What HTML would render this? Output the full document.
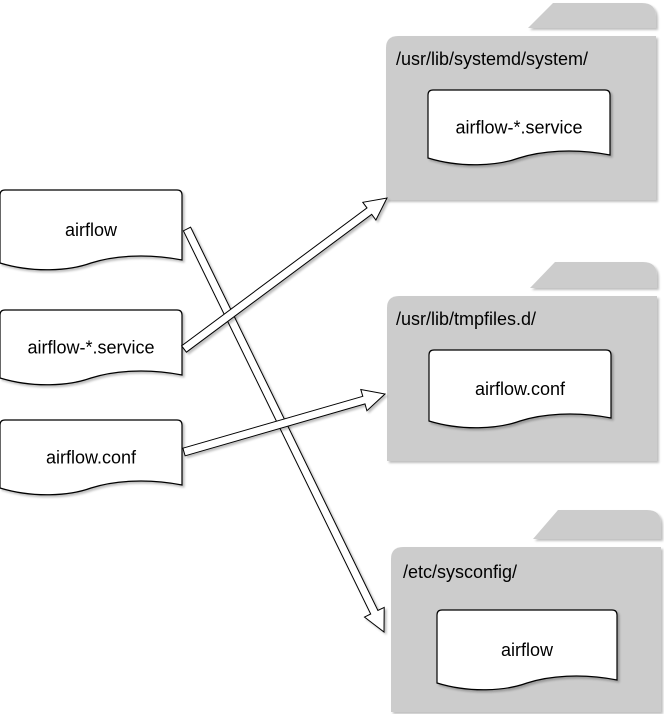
<!DOCTYPE html>
<html><head><meta charset="utf-8"><style>
html,body{margin:0;padding:0;background:#fff;width:664px;height:714px;overflow:hidden}
svg{display:block}
text{font-family:"Liberation Sans",sans-serif;font-size:18px;fill:#000}
</style></head><body>
<svg id="s" width="664" height="714" viewBox="0 0 664 714" xmlns="http://www.w3.org/2000/svg">
<defs><filter id="sh" x="-10%" y="-10%" width="130%" height="130%"><feOffset dx="2" dy="2" in="SourceAlpha" result="o"/><feGaussianBlur in="o" stdDeviation="1" result="b"/><feColorMatrix in="b" type="matrix" values="0 0 0 0 0  0 0 0 0 0  0 0 0 0 0  0 0 0 0.25 0"/><feMerge><feMergeNode/><feMergeNode in="SourceGraphic"/></feMerge></filter></defs>
<g id="g"></g>
</svg>
<script>
var g=document.getElementById('g'),out='';
function folder(x,y,w,h,ty,tx){
 out+='<path d="M'+tx+','+(y-8)+' L'+(tx+25)+','+ty+' L'+(x+w-14)+','+ty+' Q'+(x+w)+','+ty+' '+(x+w)+','+(ty+14)+' L'+(x+w)+','+(y-8)+' Z" fill="#cccccc" filter="url(#sh)"/>';
 out+='<path d="M'+x+','+(y+12)+' Q'+x+','+y+' '+(x+12)+','+y+' L'+(x+w)+','+y+' L'+(x+w)+','+(y+h)+' L'+x+','+(y+h)+' Z" fill="#cccccc" filter="url(#sh)"/>';
}
function doc(x,y,w,h,label){
 var b=y+h;
 out+='<path d="M'+x+','+(y+5)+' Q'+x+','+y+' '+(x+5)+','+y+' L'+(x+w-5)+','+y+' Q'+(x+w)+','+y+' '+(x+w)+','+(y+5)+' L'+(x+w)+','+(b-10)+' C'+(x+w*0.8)+','+(b-17)+' '+(x+w*0.62)+','+(b-14)+' '+(x+w*0.5)+','+(b-7)+' C'+(x+w*0.38)+','+(b+1)+' '+(x+w*0.18)+','+(b+3)+' '+x+','+(b-7)+' Z" fill="#fff" stroke="#000" stroke-width="1.2" filter="url(#sh)"/>';
 out+='<text x="'+(x+w/2)+'" y="'+(y+h*0.5+6)+'" text-anchor="middle">'+label+'</text>';
}
function arrow(x1,y1,x2,y2){
 var dx=x2-x1,dy=y2-y1,L=Math.hypot(dx,dy),ux=dx/L,uy=dy/L,nx=-uy,ny=ux;
 var sw=4,hw=11,hl=22,bx=x2-ux*hl,by=y2-uy*hl;
 function p(x,y,a){return (x+nx*a).toFixed(1)+','+(y+ny*a).toFixed(1)}
 var pts=[p(x1,y1,sw),p(bx,by,sw),p(bx,by,hw),x2+','+y2,p(bx,by,-hw),p(bx,by,-sw),p(x1,y1,-sw)].join(' ');
 out+='<polygon points="'+pts+'" fill="#fff" stroke="#000" stroke-width="1" stroke-linejoin="miter" filter="url(#sh)"/>';
}
folder(386,36,270,164,3,528);
folder(387,296,270,165,262,530);
folder(391,547,270,165,510,533);
out+='<text x="396" y="65" style="text-anchor:start">/usr/lib/systemd/system/</text>';
out+='<text x="396" y="325" style="text-anchor:start">/usr/lib/tmpfiles.d/</text>';
out+='<text x="403" y="578" style="text-anchor:start">/etc/sysconfig/</text>';
doc(428,90,182,75,'airflow-*.service');
doc(429,350,182,78,'airflow.conf');
doc(437,610,180,80,'airflow');
doc(0,190,182,80,'airflow');
doc(0,310,182,75,'airflow-*.service');
doc(0,420,182,75,'airflow.conf');
arrow(187,229,384,632);
arrow(184,349,387,198);
arrow(184,452,385,394);
g.innerHTML=out;
</script>
</body></html>
